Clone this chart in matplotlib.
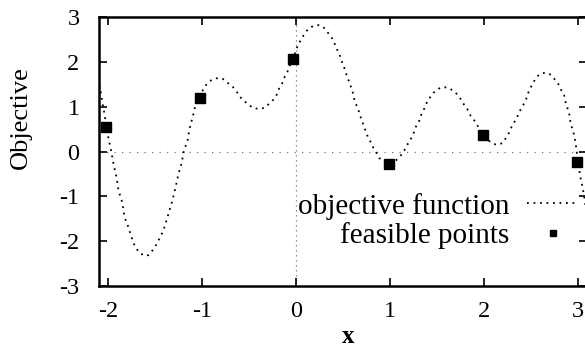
import matplotlib
matplotlib.use("Agg")
import matplotlib.pyplot as plt

# curve (x, objective)
curve_x = [-2.096, -2.075, -2.064, -2.043, -2.021, -2.000, -1.968, -1.947, -1.914, -1.893,
           -1.850, -1.829, -1.786, -1.754, -1.722, -1.679, -1.615, -1.572, -1.508, -1.465,
           -1.412, -1.380, -1.348, -1.316, -1.283, -1.251, -1.219, -1.198, -1.155, -1.134,
           -1.102, -1.070, -1.027, -1.005, -0.984, -0.941, -0.898, -0.834, -0.781, -0.727,
           -0.674, -0.631, -0.599, -0.556, -0.503, -0.460, -0.396, -0.342, -0.289, -0.235,
           -0.203, -0.182, -0.150, -0.128, -0.096, -0.075, -0.032, 0.000, 0.032, 0.064,
           0.086, 0.128, 0.182, 0.235, 0.289, 0.332, 0.374, 0.406, 0.428, 0.460,
           0.481, 0.503, 0.524, 0.545, 0.567, 0.588, 0.610, 0.620, 0.642, 0.663,
           0.684, 0.706, 0.727, 0.749, 0.770, 0.802, 0.824, 0.856, 0.888, 0.941,
           0.995, 1.070, 1.112, 1.155, 1.176, 1.209, 1.241, 1.262, 1.283, 1.316,
           1.337, 1.369, 1.390, 1.422, 1.465, 1.519, 1.561, 1.626, 1.690, 1.733,
           1.765, 1.797, 1.840, 1.861, 1.904, 1.936, 1.989, 2.043, 2.096, 2.150,
           2.203, 2.235, 2.267, 2.289, 2.321, 2.353, 2.374, 2.406, 2.439, 2.460,
           2.481, 2.513, 2.545, 2.578, 2.620, 2.674, 2.717, 2.759, 2.802, 2.824,
           2.856, 2.866, 2.888, 2.909, 2.920, 2.941, 2.963, 2.973, 2.984, 3.005,
           3.016, 3.027, 3.048, 3.070, 3.090]
curve_y = [1.48, 1.26, 1.08, 0.86, 0.55, 0.30, -0.01, -0.26, -0.57, -0.86,
           -1.15, -1.46, -1.69, -1.91, -2.09, -2.24, -2.33, -2.31, -2.15, -1.98,
           -1.75, -1.53, -1.31, -1.08, -0.79, -0.48, -0.26, -0.01, 0.26, 0.52,
           0.77, 1.04, 1.19, 1.31, 1.42, 1.53, 1.60, 1.64, 1.62, 1.53,
           1.44, 1.33, 1.22, 1.13, 1.04, 0.97, 0.95, 0.97, 1.06, 1.17,
           1.28, 1.40, 1.51, 1.64, 1.75, 1.89, 2.06, 2.27, 2.42, 2.53,
           2.62, 2.73, 2.80, 2.82, 2.78, 2.67, 2.56, 2.44, 2.31, 2.18,
           2.04, 1.93, 1.80, 1.66, 1.55, 1.42, 1.28, 1.17, 1.04, 0.93,
           0.79, 0.66, 0.54, 0.41, 0.30, 0.19, 0.08, -0.03, -0.15, -0.23,
           -0.28, -0.19, -0.10, 0.03, 0.12, 0.23, 0.35, 0.46, 0.59, 0.70,
           0.84, 0.97, 1.08, 1.19, 1.31, 1.40, 1.44, 1.42, 1.33, 1.24,
           1.13, 1.02, 0.90, 0.79, 0.68, 0.57, 0.37, 0.26, 0.17, 0.15,
           0.19, 0.30, 0.41, 0.52, 0.64, 0.75, 0.86, 0.99, 1.10, 1.22,
           1.35, 1.48, 1.60, 1.69, 1.75, 1.75, 1.71, 1.60, 1.48, 1.37,
           1.26, 1.15, 0.99, 0.86, 0.70, 0.52, 0.37, 0.26, 0.10, -0.23,
           -0.37, -0.55, -0.75, -1.00, -1.30]

# feasible points
pts_x = [-2.021, -1.027, -0.032, 0.995, 1.989, 2.995]
pts_y = [0.55, 1.19, 2.06, -0.28, 0.37, -0.23]

x_ticks = [-2, -1, 0, 1, 2, 3]
y_ticks = [-3, -2, -1, 0, 1, 2, 3]

plt.rcParams["font.family"] = ["Liberation Serif", "DejaVu Serif"]
plt.rcParams["axes.unicode_minus"] = False

fig = plt.figure(figsize=(5.85, 3.53), dpi=100)
ax = fig.add_axes([99 / 585, 1 - 286 / 353, 488 / 585, 269 / 353])

# gnuplot style zero axes
ax.axhline(0, color="0.45", lw=0.9, ls=(0, (1, 5)), zorder=1)
ax.axvline(0, color="0.45", lw=0.9, ls=(0, (1, 3)), zorder=1)

ax.plot(curve_x, curve_y, color="black", lw=1.3, ls=(0, (1, 2.6)),
        label="objective function", zorder=2)
ax.plot(pts_x, pts_y, ls="none", marker="s", ms=6.5, color="black",
        label="feasible points", zorder=3)

ax.set_xlim(-2.1, 3.1)
ax.set_ylim(-3, 3)
ax.set_xticks(x_ticks)
ax.set_yticks(y_ticks)

ax.tick_params(direction="in", length=6, width=1.2, top=True, right=True,
               labelsize=17.5, color="black")
ax.tick_params(axis="x", pad=11)
ax.tick_params(axis="y", pad=14)
for s in ax.spines.values():
    s.set_linewidth(1.8)
ax.spines["right"].set_visible(False)

ax.set_xlabel("x", fontsize=18, fontweight="bold")
ax.xaxis.set_label_coords(0.51, -0.145)
ax.set_ylabel("Objective", fontsize=19)
ax.yaxis.set_label_coords(-0.137, 0.625)

leg = ax.legend(loc="upper right", bbox_to_anchor=(594 / 585, 1 - 178 / 353),
                bbox_transform=fig.transFigure, frameon=False, markerfirst=False,
                fontsize=21, handlelength=1.78, handletextpad=0.62, borderpad=0,
                labelspacing=0.08, markerscale=0.6)

fig.savefig("out.png", dpi=100)
